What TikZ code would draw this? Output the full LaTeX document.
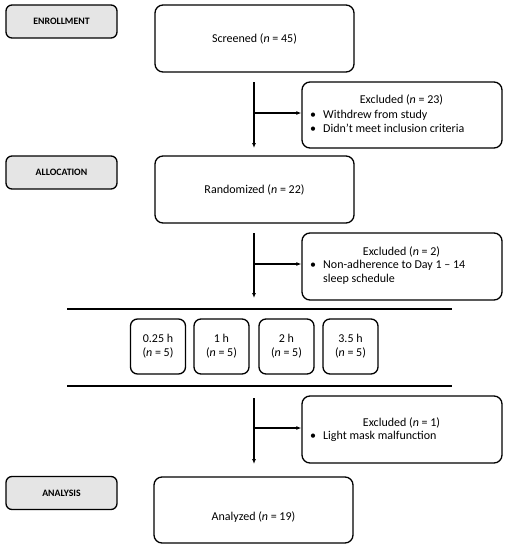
\documentclass[tikz,border=0pt]{standalone}
\usepackage{fontspec}
\setmainfont{Carlito}
\usetikzlibrary{arrows.meta}
\begin{document}
\begin{tikzpicture}[x=1pt,y=-1pt,
  txt/.style={font=\fontsize{12}{14}\selectfont, inner sep=0pt},
  box/.style={draw, line width=1.3pt, rounded corners=8pt, inner sep=0pt},
  phase/.style={draw, line width=1.3pt, rounded corners=6pt, fill=black!10, inner sep=0pt,
    minimum width=111pt, minimum height=33pt, font=\fontsize{9.8}{11}\selectfont\bfseries},
  grp/.style={draw, line width=1.3pt, rounded corners=7pt, inner sep=0pt,
    minimum width=55pt, minimum height=55pt, align=center, font=\fontsize{12}{14}\selectfont},
  conn/.style={line width=1.1pt},
  arr/.style={conn, -{Latex[length=5pt,width=4pt]}}]
\useasboundingbox (0,0) rectangle (510,550);

% phase labels
\node[phase] (enr) at (61.5,21.5) {ENROLLMENT};
\node[phase] (alloc) at (61.5,172.5) {ALLOCATION};
\node[phase] (ana) at (61.5,493) {ANALYSIS};

% main boxes
\node[box, minimum width=199pt, minimum height=67pt] (screen) at (254.5,38.5) {};
\node[txt] (screent) at (254.5,38.5) {Screened (\textit{n} = 45)};
\node[box, minimum width=199pt, minimum height=67pt] (rand) at (254.5,189.5) {};
\node[txt] (randt) at (254.5,190) {Randomized (\textit{n} = 22)};
\node[box, minimum width=199pt, minimum height=66pt] (anal) at (253.5,510) {};
\node[txt] (analt) at (253.5,517) {Analyzed (\textit{n} = 19)};

% excluded boxes
\node[box, minimum width=200pt, minimum height=66pt] (ex1) at (402,115) {};
\node[txt] (ex1t) at (401.5,100) {Excluded (\textit{n} = 23)};
\node[txt, anchor=west] (ex1b) at (310,123) {\begin{tabular}{@{}p{13pt}@{}l@{}}•&Withdrew from study\\ •&Didn’t meet inclusion criteria\end{tabular}};

\node[box, minimum width=200pt, minimum height=67pt] (ex2) at (402,266.5) {};
\node[txt] (ex2t) at (401.5,252) {Excluded (\textit{n} = 2)};
\node[txt, anchor=west] (ex2b) at (310,273) {\begin{tabular}{@{}p{13pt}@{}l@{}}•&Non-adherence to Day 1 – 14\\ &sleep schedule\end{tabular}};

\node[box, minimum width=200pt, minimum height=67pt] (ex3) at (402,429.5) {};
\node[txt] (ex3t) at (401.5,423) {Excluded (\textit{n} = 1)};
\node[txt, anchor=west] (ex3b) at (310,437) {\begin{tabular}{@{}p{13pt}@{}l@{}}•&Light mask malfunction\end{tabular}};

% groups
\node[grp] (g1) at (158,346.5) {0.25 h\\(\textit{n} = 5)};
\node[grp] (g2) at (221.5,346.5) {1 h\\(\textit{n} = 5)};
\node[grp] (g3) at (286.5,346.5) {2 h\\(\textit{n} = 5)};
\node[grp] (g4) at (350.5,346.5) {3.5 h\\(\textit{n} = 5)};

% separator lines
\coordinate (l1a) at (67,309);
\coordinate (l1b) at (452,309);
\coordinate (l2a) at (67,386);
\coordinate (l2b) at (452,386);
\draw[conn] (l1a) -- (l1b);
\draw[conn] (l2a) -- (l2b);

% connectors
\coordinate (v1a) at (254,82);
\coordinate (v1b) at (254,148);
\coordinate (v1m) at (254,113);
\draw[arr] (v1a) -- (v1b);
\draw[arr] (v1m) -- (v1m -| ex1.west);

\coordinate (v2a) at (254,233);
\coordinate (v2b) at (254,298);
\coordinate (v2m) at (254,264);
\draw[arr] (v2a) -- (v2b);
\draw[arr] (v2m) -- (v2m -| ex2.west);

\coordinate (v3a) at (254,398);
\coordinate (v3b) at (254,464);
\coordinate (v3m) at (254,428);
\draw[arr] (v3a) -- (v3b);
\draw[arr] (v3m) -- (v3m -| ex3.west);
\end{tikzpicture}
\end{document}
